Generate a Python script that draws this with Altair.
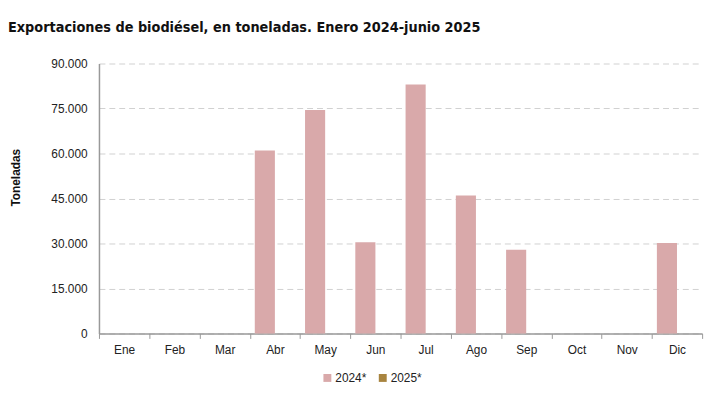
import altair as alt
import pandas as pd

meses = ["Ene", "Feb", "Mar", "Abr", "May", "Jun", "Jul", "Ago", "Sep", "Oct", "Nov", "Dic"]
series = ["2024*", "2025*"]
valores_2024 = [0, 0, 0, 61000, 74500, 30400, 83000, 46000, 27900, 0, 0, 30200]
valores_2025 = [0, 0, 0, 0, 0, 0, 0, 0, 0, 0, 0, 0]
colores = ["#D9A9AA", "#A8843F"]
y_ticks = [0, 15000, 30000, 45000, 60000, 75000, 90000]

rows = []
for m, v in zip(meses, valores_2024):
    rows.append({"mes": m, "serie": series[0], "valor": v})
for m, v in zip(meses, valores_2025):
    rows.append({"mes": m, "serie": series[1], "valor": v})
df = pd.DataFrame(rows)

chart = alt.Chart(df).mark_bar().encode(
    x=alt.X(
        "mes:N",
        sort=meses,
        scale=alt.Scale(paddingInner=0, paddingOuter=0),
        axis=alt.Axis(
            title=None, labelAngle=0, tickBand="extent", tickSize=5,
            tickColor="#999999", domainColor="#999999", domainWidth=1.5,
            labelFont="Liberation Sans", labelFontSize=12, labelColor="#222222",
            labelPadding=6, grid=False,
        ),
    ),
    xOffset=alt.XOffset(
        "serie:N", sort=series,
        scale=alt.Scale(paddingInner=0, paddingOuter=0.25),
    ),
    y=alt.Y(
        "valor:Q",
        scale=alt.Scale(domain=[0, 90000], nice=False),
        axis=alt.Axis(
            title="Toneladas", values=y_ticks,
            labelExpr="replace(format(datum.value, ',.0f'), ',', '.')",
            ticks=False, labelPadding=12, labelFont="Liberation Sans",
            labelFontSize=12, labelColor="#222222",
            domainColor="#999999", domainWidth=1.5,
            gridDash=[6, 4], gridColor="#D0D0D0", gridWidth=1,
            titleFont="Liberation Sans", titleFontSize=12, titleFontWeight="bold",
            titleColor="#111111", titleX=-84, titleY=115, titleAlign="center",
            titleBaseline="middle", titleAngle=270,
        ),
    ),
    color=alt.Color(
        "serie:N", sort=series,
        scale=alt.Scale(domain=series, range=colores),
        legend=alt.Legend(
            title=None, orient="none", direction="horizontal",
            legendX=225, legendY=312, symbolType="square", symbolSize=64,
            symbolStrokeWidth=0, labelFont="Liberation Sans", labelFontSize=12,
            labelColor="#222222", columnPadding=10, labelOffset=2,
        ),
    ),
).properties(
    width=610,
    height=273,
    title=alt.TitleParams(
        "Exportaciones de biodiésel, en toneladas. Enero 2024-junio 2025",
        anchor="start", frame="group", dx=-92, offset=22,
        font="DejaVu Sans Condensed", fontSize=14.5, fontWeight="bold",
        color="#111111",
    ),
    autosize=alt.AutoSizeParams(type="none"),
    padding={"left": 92, "top": 54, "right": 11, "bottom": 52},
).configure_view(stroke=None)

chart.save("out.html", embed_options={"renderer": "svg", "actions": False})
